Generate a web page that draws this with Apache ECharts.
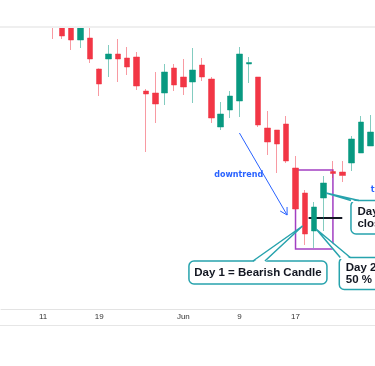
<!DOCTYPE html>
<html><head><meta charset="utf-8">
<script src="https://cdn.jsdelivr.net/npm/echarts@6/dist/echarts.min.js"></script>
<style>html,body{margin:0;padding:0;background:#fff}#c{width:375px;height:366px}</style>
</head><body><div id="c"></div>
<script>
// ---- data (trading days) ----
const categories = ['2020-05-05','2020-05-06','2020-05-07','2020-05-08','2020-05-11','2020-05-12','2020-05-13','2020-05-14','2020-05-15','2020-05-18',
 '2020-05-19','2020-05-20','2020-05-21','2020-05-22','2020-05-25','2020-05-26','2020-05-27','2020-05-28','2020-05-29','2020-06-01',
 '2020-06-02','2020-06-03','2020-06-04','2020-06-05','2020-06-08','2020-06-09','2020-06-10','2020-06-11','2020-06-12','2020-06-15',
 '2020-06-16','2020-06-17','2020-06-18','2020-06-19','2020-06-22','2020-06-23','2020-06-24','2020-06-25','2020-06-26','2020-06-29'];
const tickDates = ['2020-05-11','2020-05-19','2020-06-01','2020-06-09','2020-06-17'];
const tickTexts = ['11','19','Jun','9','17'];
const opens  = [null,null,null,null,null,293,284,285,269,271,240,250,255,251,252,218,216,216,241,232,227,244,230,182,199,208,245,232,181,179,185,141,116,78,111,137.5,137,146,156,163];
const closes = [null,null,null,null,null,286,273,269,286,250,225,255,250,242,223,215,205,237,224,222,239,232,191,195,213,255,246.5,184,167,165,148,100,75,102,126,135.5,133.5,170,187,177];
const lows   = [null,null,null,null,null,270,270,259,261,246,213,232,227,234,219,157,186,204,218,214,206,228,186,179,191,192,226,182,154,136,146,99,64,61,78,131,127,138,156,163];
const highs  = [null,null,null,null,null,298,287,290,292,284,240.5,264,270,262,257,220,237,245,245,250,261,251,232,207,218,262,252,232,198,179,193,153,119,107,133,148,148,173,193,194];

// ---- annotations in data units: [category position, price] ----
const patternBox = [[31, 139], [35, 60]];
const midLine = [[32.4, 91], [36, 91]];
const trendArrow = [[25, 176], [30.1, 94]];
const trendLabelPos = [22.3, 134];
const trendLabelText = 'downtrend';
const sideLabelPos = [39.05, 119];
const sideLabelText = 'trend reversal';
const calloutTexts = ['Day 1 = Bearish Candle', 'Day 2 = Bullish Candle closes above\n50 % of Day 1 body', 'Day 3 = Bullish Candle\ncloses higher'];
const calloutBoxPos = [[19.6, 48], [35.68, 51.5], [36.93, 108.5]];
const calloutTips = [[31.75, 83], [33.2, 80], [34.26, 116]];

const chart = echarts.init(document.getElementById('c'));
const candleData = categories.map((c, i) => opens[i] == null ? '-' : [opens[i], closes[i], lows[i], highs[i]]);

chart.setOption({
  animation: false,
  grid: { left: 1, right: 0, top: 28, bottom: 57, outerBoundsMode: 'none' },
  xAxis: [{
    type: 'category', data: categories, boundaryGap: true,
    axisLine: { lineStyle: { color: '#e3e3e3', width: 1 } },
    axisTick: { show: false },
    splitLine: { show: false },
    axisLabel: {
      interval: (i, v) => tickDates.includes(v),
      formatter: v => tickTexts[tickDates.indexOf(v)] || '',
      fontSize: 8, color: '#333', margin: 4, fontFamily: 'Liberation Sans'
    }
  }, {
    type: 'value', min: -0.5, max: categories.length - 0.5, show: false
  }],
  yAxis: { type: 'value', min: 0, max: 281, show: false },
  series: [{
    type: 'candlestick', data: candleData, barWidth: 6, clip: true,
    itemStyle: {
      color: '#089981', color0: '#f23645',
      borderColor: 'rgba(8,153,129,0.5)', borderColor0: 'rgba(242,54,69,0.5)', borderWidth: 1
    }
  }]
});

const P = pt => chart.convertToPixel({ xAxisIndex: 1, yAxisIndex: 0 }, pt);
const teal = '#27a3ad';
const els = [];
// pane above the price area (hides candles above the visible range) and frame lines
els.push({ type: 'rect', shape: { x: 0, y: 0, width: 375, height: 27 }, style: { fill: '#fff' }, z: 50 });
els.push({ type: 'rect', shape: { x: 0, y: 26, width: 375, height: 2 }, style: { fill: '#efefef' }, z: 51 });
els.push({ type: 'rect', shape: { x: 0, y: 325, width: 375, height: 1 }, style: { fill: '#e6e6e6' }, z: 0 });
// pattern box
const b0 = P(patternBox[0]), b1 = P(patternBox[1]);
els.push({ type: 'rect', shape: { x: b0[0], y: b0[1], width: b1[0] - b0[0], height: b1[1] - b0[1] },
  style: { fill: 'none', stroke: '#a23fc2', lineWidth: 1.5 }, z: 1 });
// mid line
const m0 = P(midLine[0]), m1 = P(midLine[1]);
els.push({ type: 'line', shape: { x1: m0[0], y1: m0[1], x2: m1[0], y2: m1[1] }, style: { stroke: '#131722', lineWidth: 2 }, z: 1 });
// arrow
const a0 = P(trendArrow[0]), a1 = P(trendArrow[1]);
els.push({ type: 'line', shape: { x1: a0[0], y1: a0[1], x2: a1[0], y2: a1[1] }, style: { stroke: '#2962ff', lineWidth: 1 }, z: 10 });
const ang = Math.atan2(a0[1] - a1[1], a0[0] - a1[0]);
[-0.52, 0.52].forEach(d => {
  els.push({ type: 'line', shape: { x1: a1[0], y1: a1[1], x2: a1[0] + 8 * Math.cos(ang + d), y2: a1[1] + 8 * Math.sin(ang + d) },
    style: { stroke: '#2962ff', lineWidth: 1 }, z: 10 });
});
const tl = P(trendLabelPos);
els.push({ type: 'text', style: { text: trendLabelText, x: tl[0], y: tl[1], fill: '#2962ff', font: 'bold 8px "DejaVu Sans"', align: 'left', verticalAlign: 'middle' }, z: 10 });
const sl = P(sideLabelPos);
els.push({ type: 'text', style: { text: sideLabelText, x: sl[0], y: sl[1], fill: '#2962ff', font: 'bold 8px "DejaVu Sans"', align: 'left', verticalAlign: 'middle' }, z: 10 });

// callouts
const boxSizes = [[138, 23], [110, 32], [110, 33.5]];
const wedgeBase = [[64, 76], [1, 11], [0, 8]];
calloutTexts.forEach((t, i) => {
  const p = P(calloutBoxPos[i]), tip = P(calloutTips[i]);
  const w = boxSizes[i][0], h = boxSizes[i][1];
  els.push({ type: 'rect', shape: { x: p[0], y: p[1], width: w, height: h, r: 5 }, style: { fill: '#fff', stroke: teal, lineWidth: 1.5 }, z: 11 });
  const bA = [p[0] + wedgeBase[i][0], p[1]], bB = [p[0] + wedgeBase[i][1], p[1]];
  els.push({ type: 'polygon', shape: { points: [[bA[0], bA[1] + 1.5], tip, [bB[0], bB[1] + 1.5]] }, style: { fill: '#fff' }, z: 12 });
  els.push({ type: 'polyline', shape: { points: [bA, tip, bB] }, style: { stroke: teal, lineWidth: 1.5, fill: 'none' }, z: 12 });
  if (i === 0) {
    els.push({ type: 'text', style: { text: t, x: p[0] + w / 2, y: p[1] + h / 2 + 0.5, fill: '#131722', font: 'bold 11.5px "Liberation Sans"', align: 'center', verticalAlign: 'middle' }, z: 13 });
  } else {
    els.push({ type: 'text', style: { text: t, x: p[0] + 6.5, y: p[1] + h / 2 + 0.5, fill: '#131722', font: 'bold 11.5px "Liberation Sans"', lineHeight: 12.5, align: 'left', verticalAlign: 'middle' }, z: 13 });
  }
});
chart.setOption({ graphic: { elements: els } });
</script></body></html>
